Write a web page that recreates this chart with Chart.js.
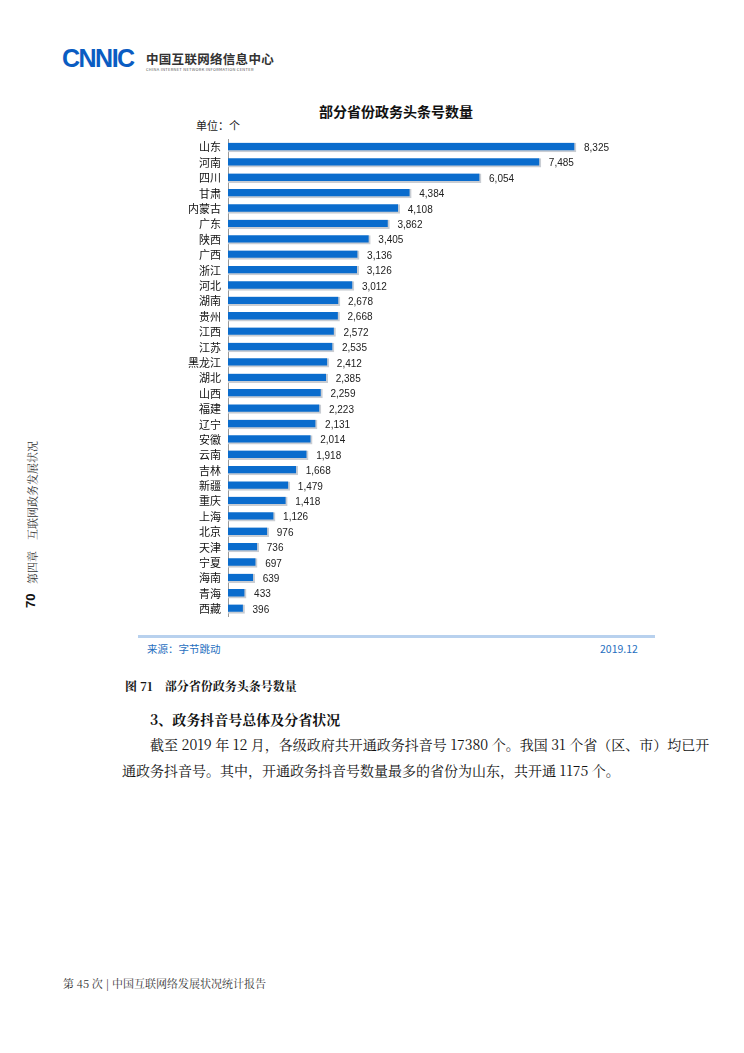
<!DOCTYPE html>
<html><head><meta charset="utf-8">
<script src="https://cdn.jsdelivr.net/npm/chart.js@4"></script>
<style>
body{margin:0;width:744px;height:1053px;position:relative;background:#fff;font-family:"Noto Sans CJK SC",sans-serif;overflow:hidden}
.abs{position:absolute;white-space:nowrap}
.serif{font-family:"Noto Serif CJK SC","Noto Sans CJK SC",serif}
.rot{transform:rotate(-90deg);transform-origin:left top}
</style></head><body>
<div class="abs" style="left:62px;top:44px;font:900 25px 'Liberation Sans',Arial;color:#0a5cc2;letter-spacing:-1.5px">CNNIC</div>
<div class="abs" style="left:146px;top:49px;font-size:12.5px;font-weight:700;color:#333;letter-spacing:0.3px">中国互联网络信息中心</div>
<div class="abs" style="left:146px;top:66px;font-size:4px;color:#555;letter-spacing:0.3px">CHINA INTERNET NETWORK INFORMATION CENTER</div>
<div class="abs" style="left:319px;top:101px;font-size:14px;font-weight:700;color:#111">部分省份政务头条号数量</div>
<div class="abs" style="left:196px;top:117px;font-size:11px;color:#222">单位：个</div>
<canvas id="c" class="abs" style="left:130px;top:130px"></canvas>
<div class="abs" style="left:138px;top:635px;width:517px;height:3px;background:#b8d1ee"></div>
<div class="abs" style="left:147px;top:641px;font-size:10.5px;color:#1f6fc0">来源：字节跳动</div>
<div class="abs" style="left:600px;top:641px;font-size:10.5px;color:#1f6fc0">2019.12</div>
<div class="abs serif rot" style="left:24px;top:584px;font-size:11px;color:#333">第四章　互联网政务发展状况</div>
<div class="abs rot" style="left:23px;top:608px;font:700 13px 'Liberation Sans';color:#111">70</div>
<div class="abs serif" style="left:125px;top:677px;font-size:12px;font-weight:700;color:#111">图 71　部分省份政务头条号数量</div>
<div class="abs serif" style="left:150px;top:709px;font-size:14px;font-weight:700;color:#111">3、政务抖音号总体及分省状况</div>
<div class="abs serif" style="left:150px;top:734px;font-size:14px;color:#111">截至 2019 年 12 月，各级政府共开通政务抖音号 17380 个。我国 31 个省（区、市）均已开</div>
<div class="abs serif" style="left:122px;top:760px;font-size:14px;color:#111">通政务抖音号。其中，开通政务抖音号数量最多的省份为山东，共开通 1175 个。</div>
<div class="abs serif" style="left:63px;top:975px;font-size:11px;color:#333">第 45 次 | 中国互联网络发展状况统计报告</div>
<script>
const provinces = ['山东','河南','四川','甘肃','内蒙古','广东','陕西','广西','浙江','河北','湖南','贵州','江西','江苏','黑龙江','湖北','山西','福建','辽宁','安徽','云南','吉林','新疆','重庆','上海','北京','天津','宁夏','海南','青海','西藏'];
const counts = [8325,7485,6054,4384,4108,3862,3405,3136,3126,3012,2678,2668,2572,2535,2412,2385,2259,2223,2131,2014,1918,1668,1479,1418,1126,976,736,697,639,433,396];

const valueLabels = {
  id: 'valueLabels',
  afterDatasetsDraw(chart) {
    const ctx = chart.ctx;
    ctx.save();
    ctx.font = '10px "Liberation Sans", Arial';
    ctx.fillStyle = '#222';
    ctx.textBaseline = 'middle';
    chart.getDatasetMeta(0).data.forEach((bar, i) => {
      ctx.fillText(counts[i].toLocaleString('en-US'), bar.x + 8, bar.y + 1);
    });
    ctx.restore();
  }
};

const canvas = document.getElementById('c');
canvas.width = 530; canvas.height = 500;
new Chart(canvas, {
  type: 'bar',
  data: {
    labels: provinces,
    datasets: [{
      data: counts,
      backgroundColor: '#0a6ccd',
      borderColor: '#c9cdd3',
      borderWidth: {right: 2, bottom: 2, top: 0, left: 0},
      borderSkipped: 'left',
      barThickness: 9
    }]
  },
  options: {
    indexAxis: 'y',
    responsive: false,
    animation: false,
    layout: {padding: {top: 9.3, bottom: 13.3, right: 14, left: 0}},
    plugins: {legend: {display: false}, tooltip: {enabled: false}},
    scales: {
      x: {display: false, min: 0, max: 10000},
      y: {
        grid: {display: false, drawTicks: true, tickLength: 4},
        border: {color: '#999', width: 1},
        ticks: {color: '#111', autoSkip: false, font: {size: 11, family: '"Noto Sans CJK SC"'}, padding: 3},
        afterFit(axis) { axis.width = 98; }
      }
    }
  },
  plugins: [valueLabels]
});
</script>
</body></html>
